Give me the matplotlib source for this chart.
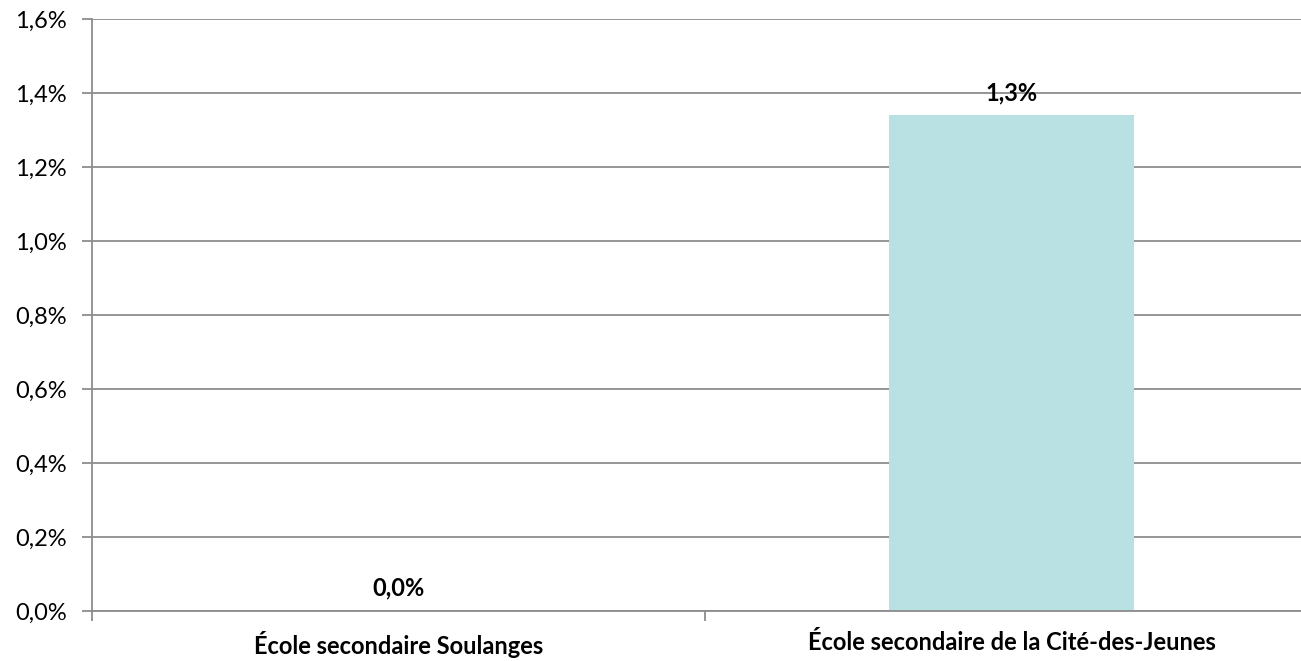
import matplotlib
matplotlib.use('Agg')
import matplotlib.pyplot as plt
from matplotlib.ticker import FuncFormatter

plt.rcParams['font.family'] = ['Lato', 'DejaVu Sans']

# données
ecoles = ['École secondaire Soulanges', 'École secondaire de la Cité-des-Jeunes']
valeurs = [0.0, 1.34]
etiquettes = ['0,0%', '1,3%']
ticks_y = [0.0, 0.2, 0.4, 0.6, 0.8, 1.0, 1.2, 1.4, 1.6]

gris = '#8c8c8c'

fig = plt.figure(figsize=(13.01, 6.61), dpi=100)
# la zone de tracé dépasse à droite comme dans l'original
ax = fig.add_axes([92 / 1301, 50 / 661, 1226 / 1301, 592 / 661])

x = range(len(ecoles))
ax.bar(x, valeurs, width=0.4, color='#b9e0e2', zorder=2)

for xi, v, lab in zip(x, valeurs, etiquettes):
    ax.annotate(lab, (xi, v), xytext=(0, 8), textcoords='offset points',
                ha='center', va='bottom', fontsize=17, fontweight='bold')

ax.set_xlim(-0.5, len(ecoles) - 0.5)
ax.set_ylim(0, 1.6)
ax.set_yticks(ticks_y)
ax.yaxis.set_major_formatter(FuncFormatter(lambda v, p: f'{v:.1f}%'.replace('.', ',')))
ax.grid(axis='y', color=gris, linewidth=1.3, zorder=0)

ax.set_xticks(list(x))
ax.set_xticklabels(ecoles, fontsize=17, fontweight='bold')
ax.tick_params(axis='x', length=0, pad=14.5)
ax.set_xticks([-0.5, 0.5, 1.5], minor=True)
ax.tick_params(axis='x', which='minor', length=7, color=gris, width=1.3)
ax.tick_params(axis='y', length=7, color=gris, width=1.3, labelsize=17, pad=11)

for s in ['top', 'right']:
    ax.spines[s].set_visible(False)
for s in ['left', 'bottom']:
    ax.spines[s].set_color(gris)
    ax.spines[s].set_linewidth(1.3)

fig.savefig('out.png', dpi=100)
